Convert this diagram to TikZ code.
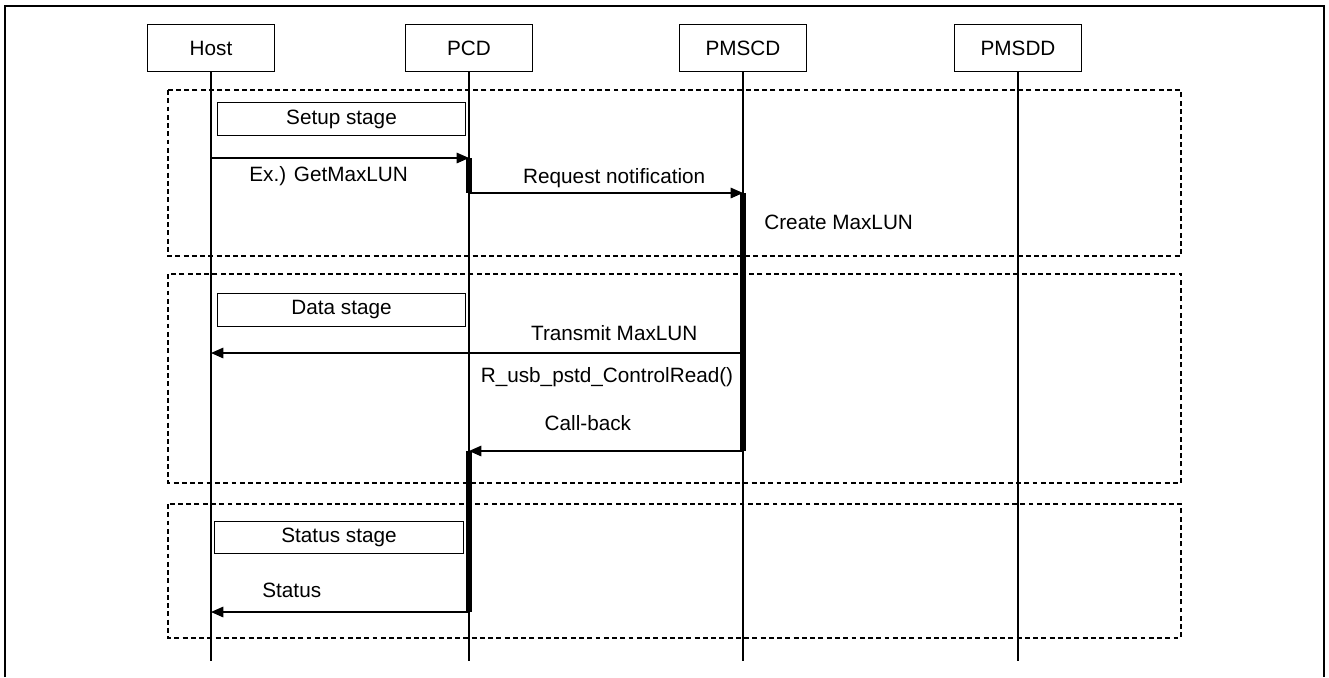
\documentclass[tikz,border=0pt]{standalone}
\usepackage{fontspec}
\setmainfont{Liberation Sans}
\usepackage{tikz}
\usetikzlibrary{arrows.meta}
\tikzset{
    actor/.style={draw, line width=0.6pt, minimum width=127\pxu, minimum height=47\pxu, inner sep=0pt, font=\fontsize{11.8}{13}\selectfont},
    stagebox/.style={draw, line width=0.6pt, minimum height=33\pxu, inner sep=0pt, font=\fontsize{11.8}{13}\selectfont},
    lbl/.style={font=\fontsize{11.8}{13}\selectfont, inner sep=0pt, anchor=center},
    msg/.style={line width=0.7pt, -{Triangle[length=7pt, width=6pt]}},
    active/.style={line width=3pt},
    stage/.style={line width=1.6pt, dash pattern=on 2.8pt off 1.9pt}}
\newlength{\pxu}
\setlength{\pxu}{0.5669pt}

\begin{document}
\begin{tikzpicture}[x=0.02cm, y=-0.02cm]
        \useasboundingbox (0,0) rectangle (1329,677);
        % frame
        \draw[line width=1.1pt] (5,677) -- (5,6) -- (1324,6) -- (1324,677);

        % stages
        \draw[stage] (168,90) rectangle (1181,256);
        \draw[stage] (168,274) rectangle (1181,483);
        \draw[stage] (168,504) rectangle (1181,638);

        % actors and lifelines
        \node[actor] (host) at (211,48) {Host};
        \node[actor] (pcd) at (469,48) {PCD};
        \node[actor] (pmscd) at (743,48) {PMSCD};
        \node[actor] (pmsdd) at (1018,48) {PMSDD};
        \foreach \a in {host,pcd,pmscd,pmsdd}
            \draw[line width=0.6pt] (\a.south) -- (\a.south |- 0,661) coordinate (\a end);

        % stage labels
        \node[stagebox, minimum width=249\pxu] (setup) at (341.5,119) {Setup stage};
        \node[stagebox, minimum width=249\pxu] (data) at (341.5,310) {Data stage};
        \node[stagebox, minimum width=250\pxu] (status) at (339,537.5) {Status stage};

        % message points
        \coordinate (h1) at (host |- 0,158);
        \coordinate (p1) at (pcd |- 0,158);
        \coordinate (p2) at (pcd |- 0,193);
        \coordinate (m1) at (pmscd |- 0,193);
        \coordinate (m2) at (pmscd |- 0,353);
        \coordinate (h2) at (host |- 0,353);
        \coordinate (m3) at (pmscd |- 0,451);
        \coordinate (p3) at (pcd |- 0,451);
        \coordinate (p4) at (pcd |- 0,612);
        \coordinate (h3) at (host |- 0,612);

        % activations
        \draw[active] (p1) -- (p2);
        \draw[active] (m1) -- (m3);
        \draw[active] (p3) -- (p4);

        % messages
        \draw[msg] (h1) -- (p1) node[lbl, pos=0.456, yshift=-10.2pt] {Ex.) GetMaxLUN};
        \draw[msg] (p2) -- (m1) node[lbl, pos=0.53, yshift=8.5pt] {Request notification};
        \node[lbl, anchor=west] (create) at (764,222) {Create MaxLUN};
        \draw[msg] (m2) -- (h2) node[lbl, pos=0.242, yshift=11.3pt] {Transmit MaxLUN};
        \node[lbl] (ctrlread) at (607,377) {R\_usb\_pstd\_ControlRead()};
        \draw[msg] (m3) -- (p3) node[lbl, pos=0.566, yshift=15.9pt] {Call-back};
        \draw[msg] (p4) -- (h3) node[lbl, pos=0.687, yshift=12.5pt] {Status};

\end{tikzpicture}
\end{document}
